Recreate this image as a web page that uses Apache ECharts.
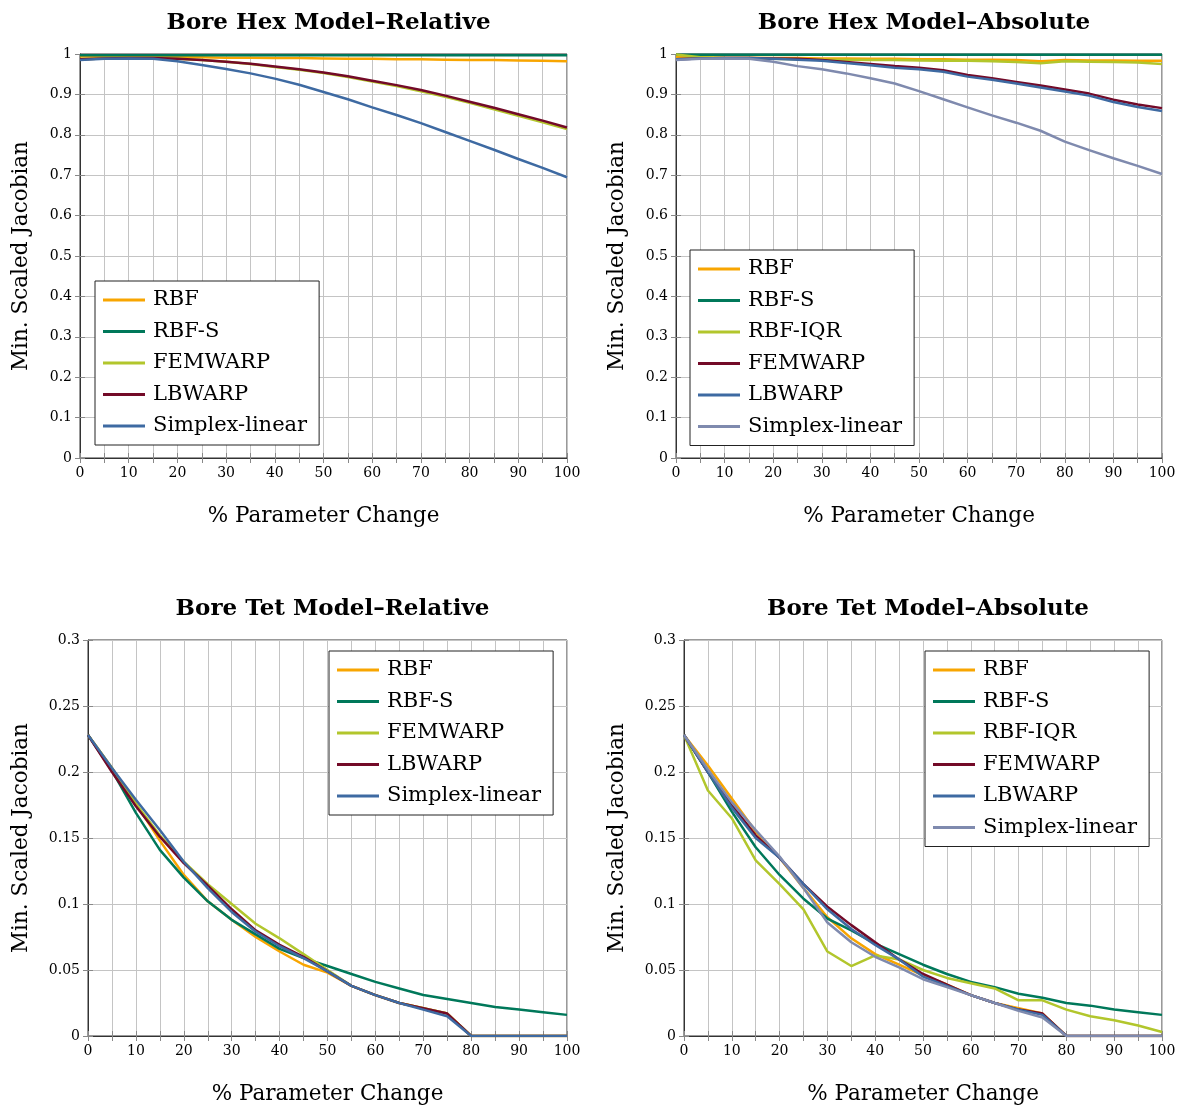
<!DOCTYPE html>
<html>
<head>
<meta charset="utf-8">
<script src="https://cdn.jsdelivr.net/npm/echarts@6/dist/echarts.min.js"></script>
<style>html,body{margin:0;padding:0;background:#fff}#c{width:1184px;height:1109px}</style>
</head>
<body>
<div id="c"></div>
<script>
const X = [0,5,10,15,20,25,30,35,40,45,50,55,60,65,70,75,80,85,90,95,100];

// Bore Hex Model – Relative
const hexRelRBF     = [0.994,0.994,0.993,0.993,0.992,0.992,0.991,0.991,0.990,0.990,0.989,0.988,0.988,0.987,0.987,0.986,0.985,0.985,0.984,0.983,0.982];
const hexRelRBFS    = [0.997,0.997,0.997,0.997,0.997,0.997,0.997,0.997,0.997,0.997,0.997,0.997,0.997,0.997,0.997,0.997,0.997,0.997,0.997,0.997,0.997];
const hexRelFEM     = [0.987,0.989,0.990,0.990,0.988,0.985,0.981,0.975,0.968,0.961,0.953,0.943,0.932,0.921,0.908,0.894,0.879,0.863,0.847,0.831,0.814];
const hexRelLB      = [0.987,0.989,0.990,0.990,0.988,0.985,0.981,0.976,0.969,0.962,0.954,0.945,0.934,0.923,0.911,0.897,0.882,0.867,0.851,0.835,0.818];
const hexRelSimplex = [0.985,0.988,0.989,0.988,0.982,0.973,0.963,0.952,0.939,0.924,0.906,0.888,0.868,0.849,0.829,0.807,0.785,0.763,0.740,0.718,0.695];

// Bore Hex Model – Absolute
const hexAbsRBF     = [0.992,0.992,0.991,0.991,0.990,0.990,0.989,0.989,0.988,0.988,0.987,0.987,0.986,0.986,0.985,0.982,0.985,0.984,0.984,0.983,0.983];
const hexAbsRBFS    = [0.998,0.998,0.998,0.998,0.998,0.998,0.998,0.998,0.998,0.998,0.998,0.998,0.998,0.998,0.998,0.998,0.998,0.998,0.998,0.998,0.998];
const hexAbsIQR     = [0.999,0.992,0.990,0.989,0.988,0.987,0.986,0.986,0.985,0.985,0.984,0.983,0.983,0.982,0.980,0.977,0.982,0.981,0.980,0.979,0.975];
const hexAbsFEM     = [0.987,0.989,0.990,0.990,0.989,0.988,0.985,0.980,0.975,0.970,0.966,0.960,0.948,0.940,0.931,0.922,0.912,0.902,0.887,0.875,0.866];
const hexAbsLB      = [0.987,0.989,0.990,0.990,0.988,0.986,0.983,0.978,0.972,0.966,0.962,0.956,0.944,0.936,0.927,0.917,0.907,0.897,0.881,0.869,0.859];
const hexAbsSimplex = [0.985,0.988,0.989,0.988,0.981,0.970,0.962,0.952,0.940,0.927,0.908,0.888,0.868,0.848,0.830,0.810,0.783,0.762,0.742,0.723,0.703];

// Bore Tet Model – Relative
const tetRelRBF     = [0.228,0.203,0.176,0.148,0.122,0.102,0.088,0.075,0.064,0.054,0.048,0.038,0.031,0.025,0.021,0.017,0,0,0,0,0];
const tetRelRBFS    = [0.228,0.201,0.169,0.141,0.120,0.102,0.088,0.077,0.066,0.059,0.053,0.047,0.041,0.036,0.031,0.028,0.025,0.022,0.020,0.018,0.016];
const tetRelFEM     = [0.228,0.203,0.176,0.152,0.132,0.115,0.100,0.085,0.074,0.062,0.050,0.038,0.031,0.025,0.021,0.017,0,0,0,0,0];
const tetRelLB      = [0.228,0.200,0.174,0.151,0.131,0.114,0.096,0.080,0.069,0.060,0.049,0.038,0.031,0.025,0.021,0.017,0,0,0,0,0];
const tetRelSimplex = [0.228,0.203,0.179,0.156,0.132,0.112,0.094,0.079,0.068,0.059,0.049,0.038,0.031,0.025,0.020,0.015,0,0,0,0,0];

// Bore Tet Model – Absolute
const tetAbsRBF     = [0.228,0.205,0.180,0.155,0.135,0.112,0.090,0.074,0.062,0.054,0.046,0.039,0.031,0.025,0.021,0.017,0,0,0,0,0];
const tetAbsRBFS    = [0.228,0.200,0.170,0.143,0.122,0.104,0.089,0.080,0.070,0.062,0.054,0.047,0.041,0.037,0.032,0.029,0.025,0.023,0.020,0.018,0.016];
const tetAbsIQR     = [0.228,0.186,0.165,0.133,0.115,0.096,0.064,0.053,0.061,0.058,0.050,0.044,0.040,0.036,0.027,0.027,0.020,0.015,0.012,0.008,0.003];
const tetAbsFEM     = [0.228,0.200,0.175,0.152,0.135,0.115,0.098,0.084,0.071,0.058,0.047,0.039,0.031,0.025,0.020,0.017,0,0,0,0,0];
const tetAbsLB      = [0.228,0.200,0.173,0.150,0.135,0.115,0.096,0.081,0.069,0.058,0.045,0.038,0.031,0.025,0.020,0.016,0,0,0,0,0];
const tetAbsSimplex = [0.228,0.202,0.177,0.156,0.136,0.112,0.086,0.071,0.060,0.052,0.043,0.037,0.031,0.025,0.019,0.014,0,0,0,0,0];

const titles = ['Bore Hex Model–Relative','Bore Hex Model–Absolute','Bore Tet Model–Relative','Bore Tet Model–Absolute'];
const yName = 'Min. Scaled Jacobian';
const xName = '% Parameter Change';

const C = {orange:'#f8a500', green:'#00785a', lime:'#b2c62c', wine:'#730a28', blue:'#3e6aa2', gray:'#7f8aae'};

const panels = [
  {title:titles[0], ymax:1, yint:0.1, grid:{left:80,right:617,top:54,bottom:651}, legend:{left:95,top:281},
   series:[['RBF',hexRelRBF,C.orange],['RBF-S',hexRelRBFS,C.green],['FEMWARP',hexRelFEM,C.lime],['LBWARP',hexRelLB,C.wine],['Simplex-linear',hexRelSimplex,C.blue]]},
  {title:titles[1], ymax:1, yint:0.1, grid:{left:676,right:22,top:54,bottom:651}, legend:{left:690,top:250},
   series:[['RBF',hexAbsRBF,C.orange],['RBF-S',hexAbsRBFS,C.green],['RBF-IQR',hexAbsIQR,C.lime],['FEMWARP',hexAbsFEM,C.wine],['LBWARP',hexAbsLB,C.blue],['Simplex-linear',hexAbsSimplex,C.gray]]},
  {title:titles[2], ymax:0.3, yint:0.05, grid:{left:88,right:617,top:640,bottom:73}, legend:{left:329,top:651},
   series:[['RBF',tetRelRBF,C.orange],['RBF-S',tetRelRBFS,C.green],['FEMWARP',tetRelFEM,C.lime],['LBWARP',tetRelLB,C.wine],['Simplex-linear',tetRelSimplex,C.blue]]},
  {title:titles[3], ymax:0.3, yint:0.05, grid:{left:684,right:22,top:640,bottom:73}, legend:{left:925,top:651},
   series:[['RBF',tetAbsRBF,C.orange],['RBF-S',tetAbsRBFS,C.green],['RBF-IQR',tetAbsIQR,C.lime],['FEMWARP',tetAbsFEM,C.wine],['LBWARP',tetAbsLB,C.blue],['Simplex-linear',tetAbsSimplex,C.gray]]}
];

const FONT = 'DejaVu Serif';
const gridLine = {show:true, lineStyle:{color:'#c4c4c4', width:1}};
const option = {backgroundColor:'#fff', animation:false, title:[], grid:[], xAxis:[], yAxis:[], legend:[], series:[]};

panels.forEach((p, i) => {
  const g = p.grid;
  const cx = g.left + (1184 - g.right - g.left) / 2;
  option.title.push({text:p.title, left:cx, top:g.top - 47, textAlign:'center',
    textStyle:{fontFamily:FONT, fontWeight:'bold', fontSize:23, color:'#000'}});
  option.grid.push({left:g.left, right:g.right, top:g.top, bottom:g.bottom, show:true, borderColor:'#333', borderWidth:1, containLabel:false});
  option.xAxis.push({type:'value', gridIndex:i, min:0, max:100, interval:10,
    name:xName, nameLocation:'middle', nameGap:47, nameTextStyle:{fontFamily:FONT, fontSize:21.5, color:'#000'},
    axisLine:{show:true, onZero:false, lineStyle:{color:'#333'}},
    axisTick:{show:true, inside:true, length:5, lineStyle:{color:'#888'}},
    minorTick:{show:true, splitNumber:2, length:5, lineStyle:{color:'#888'}},
    axisLabel:{fontFamily:FONT, fontSize:14, color:'#000', margin:8},
    splitLine:gridLine, minorSplitLine:gridLine});
  option.xAxis.push({type:'value', gridIndex:i, min:0, max:100, interval:10, position:'top',
    axisLine:{show:false}, axisLabel:{show:false}, splitLine:{show:false},
    axisTick:{show:true, inside:true, length:5, lineStyle:{color:'#888'}},
    minorTick:{show:true, splitNumber:2, length:5, lineStyle:{color:'#888'}}});
  option.yAxis.push({type:'value', gridIndex:i, min:0, max:p.ymax, interval:p.yint,
    name:yName, nameLocation:'middle', nameGap:p.ymax === 1 ? 48 : 56, nameTextStyle:{fontFamily:FONT, fontSize:21.5, color:'#000'},
    axisLine:{show:true, onZero:false, lineStyle:{color:'#333'}},
    axisTick:{show:true, inside:true, length:5, lineStyle:{color:'#888'}},
    axisLabel:{fontFamily:FONT, fontSize:14, color:'#000', margin:8},
    splitLine:gridLine});
  option.yAxis.push({type:'value', gridIndex:i, min:0, max:p.ymax, interval:p.yint, position:'right',
    axisLine:{show:false}, axisLabel:{show:false}, splitLine:{show:false},
    axisTick:{show:true, inside:true, length:5, lineStyle:{color:'#888'}}});
  const names = [];
  p.series.forEach(([name, vals, color]) => {
    const id = name + '|' + i;
    names.push({name:id, itemStyle:{color:color}});
    option.series.push({type:'line', name:id, xAxisIndex:2*i, yAxisIndex:2*i, symbol:'none', smooth:false,
      lineStyle:{color:color, width:2.5}, itemStyle:{color:color},
      data:X.map((x, k) => [x, vals[k]])});
  });
  option.legend.push({data:names, orient:'vertical', left:p.legend.left, top:p.legend.top,
    formatter:n => n.split('|')[0], icon:'rect', itemWidth:42, itemHeight:3, itemGap:9.5,
    padding:[8,12,8,8], backgroundColor:'#fff', borderColor:'#222', borderWidth:1, borderRadius:0,
    textStyle:{fontFamily:FONT, fontSize:21, color:'#000', lineHeight:22, padding:[0,0,0,3]}, selectedMode:false});
});

const chart = echarts.init(document.getElementById('c'), null, {renderer:'canvas'});
chart.setOption(option);
</script>
</body>
</html>
